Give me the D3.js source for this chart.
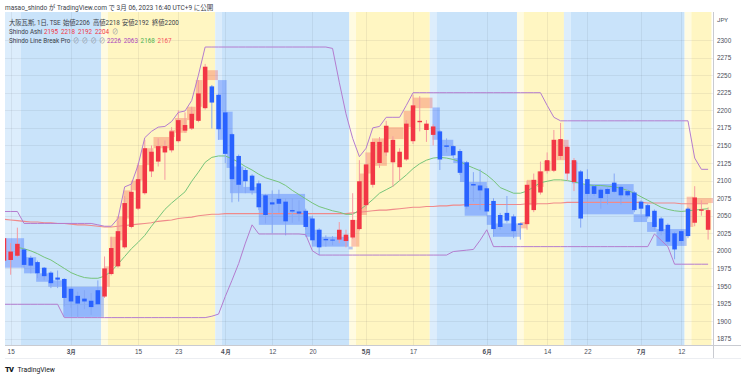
<!DOCTYPE html>
<html lang="ja">
  <head>
    <meta charset="UTF-8" />
    <title>大阪瓦斯 1日 - Shindo Line Break Pro</title>
    <script src="https://d3js.org/d3.v7.min.js"></script>
    <style>
      body {
        margin: 0;
        background: #fff;
        font-family: Roboto, "Noto Sans CJK JP", sans-serif;
      }
      .axis text {
        font-size: 6.4px;
        fill: #4a4e59;
      }
      .axis .domain,
      .axis line {
        display: none;
      }
      .legend text {
        font-size: 6.3px;
        fill: #3a3e49;
      }
    </style>
  </head>
  <body>
    <div class="chart"></div>

    <script>
      // daily bars, left to right (index = bar number)
      const opens = [
        1986, 1987, 1993, 2002, 1990, 1984, 1976, 1969, 1962, 1960,
        1946, 1936, 1932, 1929, 1944, 1935, 1967, 1978, 2005, 2034,
        2060, 2082, 2113, 2127, 2140, 2143, 2156, 2171, 2174, 2185,
        2203, 2234, 2222, 2197, 2166, 2135, 2115, 2107, 2096, 2079,
        2069, 2074, 2070, 2058, 2056, 2057, 2046, 2030, 2017, 2016,
        2016, 2014, 2019, 2031, 2065, 2094, 2125, 2140, 2126, 2119,
        2130, 2156, 2183, 2172, 2165, 2170, 2150, 2149, 2142, 2126,
        2095, 2093, 2089, 2071, 2051, 2054, 2049, 2039, 2038, 2058,
        2083, 2114, 2114, 2135, 2110, 2098, 2113, 2102, 2092, 2087,
        2088, 2097, 2091, 2085, 2083, 2070, 2065, 2057, 2046, 2037,
        2025, 2028, 2060, 2040, 2057, 2030
      ];
      const highs = [
        2022, 2011, 2033, 2004, 1993, 1986, 1977, 1971, 1972, 1961,
        1947, 1942, 1944, 1940, 1958, 1992, 2020, 2043, 2078, 2094,
        2125, 2158, 2150, 2160, 2157, 2176, 2200, 2197, 2205, 2243,
        2266, 2236, 2224, 2199, 2168, 2137, 2118, 2109, 2100, 2081,
        2086, 2087, 2075, 2075, 2072, 2060, 2050, 2032, 2022, 2021,
        2041, 2030, 2082, 2129, 2140, 2160, 2162, 2185, 2163, 2146,
        2186, 2222, 2220, 2186, 2180, 2172, 2160, 2150, 2145, 2128,
        2112, 2116, 2092, 2075, 2054, 2078, 2052, 2040, 2100, 2110,
        2127, 2140, 2172, 2182, 2150, 2132, 2115, 2116, 2094, 2089,
        2090, 2110, 2093, 2087, 2085, 2072, 2067, 2059, 2048, 2039,
        2027, 2030, 2062, 2092, 2072, 2062
      ];
      const lows = [
        1980, 1966, 1991, 1976, 1968, 1961, 1958, 1947, 1947, 1921,
        1919, 1906, 1917, 1909, 1923, 1933, 1965, 1976, 2003, 2032,
        2058, 2080, 2105, 2120, 2101, 2140, 2154, 2168, 2172, 2183,
        2201, 2174, 2158, 2125, 2069, 2070, 2082, 2080, 2058, 2039,
        2025, 2054, 2022, 2040, 2042, 2030, 2010, 1994, 2006, 2008,
        2011, 2005, 2017, 2029, 2060, 2090, 2118, 2135, 2091, 2100,
        2128, 2152, 2170, 2155, 2150, 2115, 2140, 2132, 2108, 2060,
        2070, 2058, 2050, 2020, 2030, 2040, 2018, 2016, 2030, 2055,
        2080, 2110, 2112, 2130, 2100, 2085, 2033, 2078, 2078, 2060,
        2066, 2082, 2066, 2077, 2055, 2052, 2046, 2030, 2022, 2010,
        1988, 2010, 2018, 2035, 2050, 2016
      ];
      const closes = [
        2018, 1999, 2010, 1980, 1979, 1968, 1964, 1954, 1959, 1933,
        1928, 1925, 1928, 1920, 1924, 1975, 2004, 2028, 2068, 2084,
        2102, 2146, 2141, 2149, 2149, 2170, 2186, 2179, 2195, 2224,
        2262, 2211, 2173, 2138, 2102, 2094, 2099, 2086, 2062, 2051,
        2066, 2067, 2042, 2056, 2053, 2034, 2015, 2005, 2015, 2015,
        2030, 2023, 2044, 2099, 2123, 2155, 2155, 2178, 2158, 2141,
        2181, 2207, 2185, 2181, 2177, 2130, 2148, 2136, 2111, 2063,
        2093, 2086, 2056, 2031, 2034, 2043, 2028, 2037, 2094, 2101,
        2113, 2129, 2158, 2159, 2148, 2129, 2046, 2081, 2081, 2075,
        2081, 2084, 2079, 2079, 2058, 2060, 2049, 2034, 2028, 2013,
        2002, 2014, 2021, 2076, 2059, 2058
      ];

      // Shindo Line Break Pro channel (purple)
      const upperBand = [
        2056, 2056, 2056, 2039, 2039, 2039, 2039, 2039, 2039, 2039,
        2039, 2039, 2039, 2039, 2037, 2035, 2035, 2046, 2091, 2095,
        2122, 2161, 2170, 2176, 2177, 2184, 2197, 2199, 2214, 2250,
        2290, 2290, 2290, 2290, 2290, 2290, 2290, 2290, 2290, 2290,
        2290, 2290, 2290, 2290, 2290, 2290, 2290, 2290, 2290, 2288,
        2240, 2195, 2160, 2134, 2146, 2175, 2177, 2190, 2190, 2190,
        2207, 2225, 2225, 2225, 2225, 2225, 2225, 2225, 2225, 2225,
        2225, 2225, 2225, 2225, 2225, 2225, 2225, 2225, 2225, 2225,
        2225, 2207, 2190, 2185, 2185, 2185, 2185, 2185, 2185, 2185,
        2185, 2185, 2185, 2185, 2185, 2185, 2185, 2185, 2185, 2185,
        2185, 2185, 2185, 2132, 2116, 2116
      ];
      const lowerBand = [
        1924, 1924, 1924, 1924, 1924, 1924, 1924, 1924, 1924, 1905,
        1905, 1905, 1905, 1905, 1905, 1905, 1905, 1905, 1905, 1905,
        1905, 1905, 1905, 1905, 1905, 1905, 1905, 1905, 1905, 1905,
        1905, 1907, 1910, 1935, 1958, 1982, 2011, 2037, 2024, 2024,
        2024, 2024, 2024, 2024, 2024, 2023, 2000, 1994, 1994, 1994,
        1994, 1994, 1994, 1994, 1994, 1994, 1994, 1994, 1994, 1994,
        1994, 1994, 1994, 1994, 1994, 1994, 1994, 1999, 2000, 2001,
        2002, 2015, 2030, 2006, 2006, 2006, 2006, 2006, 2006, 2006,
        2006, 2006, 2006, 2006, 2006, 2006, 2006, 2006, 2006, 2006,
        2006, 2006, 2006, 2006, 2006, 2006, 2006, 2024, 2015, 2006,
        1981, 1981, 1981, 1981, 1981, 1981
      ];
      // moving averages (green fast, red slow)
      const fastMa = [
        null, null, 2005, 2003, 2000, 1996, 1991, 1987, 1981, 1975,
        1969, 1965, 1962, 1961, 1961, 1964, 1971, 1981, 1992, 2003,
        2012, 2022, 2035, 2047, 2059, 2068, 2076, 2084, 2099, 2112,
        2126, 2133, 2135, 2135, 2131, 2126, 2120, 2115, 2109, 2104,
        2101, 2098, 2093, 2086, 2080, 2074, 2068, 2063, 2060, 2057,
        2055, 2052, 2052, 2058, 2065, 2073, 2082, 2087, 2092, 2100,
        2108, 2117, 2124, 2129, 2132, 2133, 2132, 2130, 2127, 2122,
        2118, 2114, 2108, 2100, 2090, 2086, 2082, 2082, 2085, 2091,
        2097, 2099, 2101, 2101, 2100, 2098, 2096, 2094, 2093, 2093,
        2092, 2091, 2089, 2086, 2082, 2077, 2072, 2067, 2062, 2059,
        2057, 2056, 2057, 2058, 2059, 2060
      ];
      const slowMa = [
        2045, 2044, 2043, 2042, 2041, 2041, 2040, 2040, 2039, 2039,
        2038, 2037, 2037, 2036, 2035, 2034, 2034, 2035, 2036, 2037,
        2038, 2039, 2040, 2042, 2043, 2044, 2046, 2047, 2048, 2050,
        2051, 2052, 2052, 2053, 2053, 2053, 2053, 2053, 2053, 2053,
        2053, 2053, 2053, 2053, 2053, 2053, 2053, 2053, 2053, 2053,
        2053, 2053, 2054, 2055, 2056, 2057, 2058, 2058, 2059, 2060,
        2061, 2062, 2062, 2063, 2063, 2064, 2064, 2065, 2065, 2066,
        2066, 2066, 2066, 2066, 2066, 2066, 2066, 2066, 2067, 2067,
        2067, 2067, 2068, 2068, 2069, 2069, 2069, 2069, 2069, 2069,
        2069, 2069, 2069, 2069, 2069, 2069, 2068, 2068, 2068, 2068,
        2068, 2067, 2067, 2067, 2067, 2067
      ];

      // line break bricks: [from bar, to bar, low, high, rising]
      const lineBreakBoxes = [
        [-0.5, 3.0, 1976, 2018, 0], [3.0, 4.8, 1968, 1991, 0],
        [4.8, 6.6, 1956, 1968, 0], [6.6, 8.85, 1949, 1958, 0],
        [8.85, 14.9, 1906, 1949, 0], [14.9, 15.8, 1949, 1978, 1],
        [15.8, 16.8, 1978, 2020, 1], [16.8, 17.8, 2015, 2049, 1],
        [17.8, 18.9, 2046, 2086, 1], [18.9, 19.8, 2086, 2100, 1],
        [19.8, 20.8, 2100, 2122, 1], [20.8, 22.3, 2122, 2146, 1],
        [22.3, 24.7, 2146, 2162, 1], [24.7, 25.5, 2162, 2172, 1],
        [25.5, 27.3, 2168, 2189, 1], [27.3, 28.6, 2186, 2205, 1],
        [28.6, 29.6, 2205, 2243, 1], [30.3, 31.9, 2243, 2257, 1],
        [31.9, 33.2, 2158, 2243, 0], [33.2, 34.1, 2118, 2198, 0],
        [33.7, 35.7, 2082, 2120, 0], [35.7, 38.0, 2082, 2091, 0],
        [38.0, 44.9, 2037, 2081, 0], [44.9, 45.9, 2020, 2049, 0],
        [45.9, 47.4, 2006, 2030, 0], [47.4, 51.4, 2006, 2020, 0],
        [51.4, 52.0, 2002, 2006, 0], [51.8, 53.0, 2006, 2044, 1],
        [53.0, 54.1, 2051, 2110, 1], [54.1, 55.1, 2110, 2140, 1],
        [55.1, 57.1, 2121, 2160, 1], [57.1, 59.6, 2159, 2176, 1],
        [59.6, 61.0, 2176, 2199, 1], [61.0, 63.9, 2203, 2218, 1],
        [63.9, 65.0, 2158, 2204, 0], [65.0, 67.0, 2135, 2158, 0],
        [67.0, 68.0, 2125, 2132, 0], [68.0, 68.7, 2098, 2127, 0],
        [68.7, 72.0, 2050, 2098, 0], [72.0, 73.0, 2037, 2051, 0],
        [73.0, 77.0, 2020, 2039, 0], [77.0, 78.0, 2032, 2041, 1],
        [78.0, 79.5, 2065, 2101, 1], [79.5, 80.5, 2091, 2113, 1],
        [80.5, 81.5, 2113, 2128, 1], [82.4, 84.2, 2129, 2158, 1],
        [84.7, 85.5, 2096, 2127, 0], [85.9, 93.9, 2052, 2095, 0],
        [93.9, 95.9, 2041, 2052, 0], [95.9, 97.3, 2027, 2041, 0],
        [97.3, 101.8, 2007, 2031, 0], [101.8, 102.8, 2034, 2077, 1],
        [102.8, 106, 2068, 2075, 1]
      ];

      // background trend zones: first bar of each zone and its kind
      const zoneStarts = [0, 3, 15, 16, 32, 33, 52, 53, 64, 65, 77, 78, 84, 85, 102, 103];
      const zoneKinds = [
        "blueSoft", "blue", "yellowSoft", "yellow", "blueSoft", "blue",
        "yellowSoft", "yellow", "blueSoft", "blue", "yellowSoft", "yellow",
        "blueSoft", "blue", "yellowSoft", "yellow"
      ];

      const priceTicks = [2300, 2275, 2250, 2225, 2200, 2175, 2150, 2125, 2100,
        2075, 2050, 2025, 2000, 1975, 1950, 1925, 1900, 1875];
      const timeTickBars = [1, 10, 20, 26, 33, 40, 46, 54, 61, 72, 81, 87, 95, 101];
      const timeTickLabels = ["15", "3月", "15", "23", "4月", "12", "20", "5月",
        "17", "6月", "14", "22", "7月", "12"];

      const W = 741, H = 378;
      const pane = { left: 5, top: 12, right: 713, bottom: 345 };
      const zoneColors = {
        blue: "#c9e3fa",
        blueSoft: "#dcedfc",
        yellow: "#fff6c2",
        yellowSoft: "#fffbe1"
      };
      const upColor = "#f23645", downColor = "#2962ff";
      const bandColor = "#b47ccf";

      const svg = d3
        .select(".chart")
        .append("svg")
        .attr("width", W)
        .attr("height", H)
        .style("display", "block");

      const nBars = opens.length;
      const x = d3.scaleLinear().domain([0, nBars - 1]).range([3.96, 708.1]);
      const y = d3.scaleLinear().domain([1875, 2300]).range([338.7, 40]);
      const step = x(1) - x(0);

      svg.append("defs").append("clipPath").attr("id", "pane-clip")
        .append("rect")
        .attr("x", pane.left).attr("y", pane.top)
        .attr("width", pane.right - pane.left)
        .attr("height", pane.bottom - pane.top);

      const plot = svg.append("g").attr("clip-path", "url(#pane-clip)");

      // zones
      plot.selectAll(".zone")
        .data(zoneStarts)
        .enter()
        .append("rect")
        .attr("x", (d) => x(d) - step / 2)
        .attr("y", pane.top)
        .attr("width", (d, i) => {
          const end = i + 1 < zoneStarts.length ? zoneStarts[i + 1] : nBars;
          return (end - d) * step;
        })
        .attr("height", pane.bottom - pane.top)
        .attr("fill", (d, i) => zoneColors[zoneKinds[i]]);

      // grid
      const grid = plot.append("g").attr("stroke", "rgba(42,46,57,0.07)").attr("stroke-width", 1);
      grid.selectAll(".hg").data(priceTicks).enter().append("line")
        .attr("x1", pane.left).attr("x2", pane.right)
        .attr("y1", (d) => Math.round(y(d)) + 0.5)
        .attr("y2", (d) => Math.round(y(d)) + 0.5);
      grid.selectAll(".vg").data(timeTickBars).enter().append("line")
        .attr("y1", pane.top).attr("y2", pane.bottom)
        .attr("x1", (d) => Math.round(x(d)) + 0.5)
        .attr("x2", (d) => Math.round(x(d)) + 0.5);

      // line break bricks
      plot.selectAll(".brick")
        .data(lineBreakBoxes)
        .enter()
        .append("rect")
        .attr("x", (d) => x(d[0]))
        .attr("width", (d) => x(d[1]) - x(d[0]))
        .attr("y", (d) => y(d[3]))
        .attr("height", (d) => y(d[2]) - y(d[3]))
        .attr("fill", (d) => (d[4] ? "rgba(242,70,60,0.3)" : "rgba(41,98,255,0.34)"));

      const bars = d3.range(nBars);
      const lineOf = (arr) =>
        d3.line()
          .defined((i) => arr[i] != null)
          .x((i) => x(i))
          .y((i) => y(arr[i]));

      plot.append("path").attr("d", lineOf(slowMa)(bars))
        .attr("fill", "none").attr("stroke", "#f08a8a").attr("stroke-width", 1.1);
      plot.append("path").attr("d", lineOf(fastMa)(bars))
        .attr("fill", "none").attr("stroke", "#76c47a").attr("stroke-width", 1);

      // candles
      const bodyW = step * 0.68;
      const candles = plot.selectAll(".candle").data(bars).enter().append("g");
      candles.append("line")
        .attr("x1", (i) => x(i)).attr("x2", (i) => x(i))
        .attr("y1", (i) => y(highs[i])).attr("y2", (i) => y(lows[i]))
        .attr("stroke", (i) => (closes[i] >= opens[i] ? "#f59aa2" : "#86a8f5"))
        .attr("stroke-width", 1);
      candles.append("rect")
        .attr("x", (i) => x(i) - bodyW / 2)
        .attr("width", bodyW)
        .attr("y", (i) => y(Math.max(opens[i], closes[i])))
        .attr("height", (i) => Math.max(1, Math.abs(y(opens[i]) - y(closes[i]))))
        .attr("fill", (i) => (closes[i] >= opens[i] ? upColor : downColor));

      plot.append("path").attr("d", lineOf(upperBand)(bars))
        .attr("fill", "none").attr("stroke", bandColor).attr("stroke-width", 1);
      plot.append("path").attr("d", lineOf(lowerBand)(bars))
        .attr("fill", "none").attr("stroke", bandColor).attr("stroke-width", 1);

      // axes
      svg.append("rect").attr("x", pane.right).attr("y", 0)
        .attr("width", W - pane.right).attr("height", pane.bottom).attr("fill", "#fff");

      svg.append("g")
        .attr("class", "axis")
        .attr("transform", `translate(${pane.right},0)`)
        .call(d3.axisRight(y).tickValues(priceTicks).tickSize(0).tickPadding(4).tickFormat(d3.format("d")));

      svg.append("text")
        .attr("x", pane.right + 4).attr("y", 22)
        .style("font-size", "6.2px").style("fill", "#4a4e59")
        .text("JPY");

      const tAxis = svg.append("g")
        .attr("class", "axis")
        .attr("transform", `translate(0,${pane.bottom})`)
        .call(d3.axisBottom(x).tickValues(timeTickBars).tickSize(0).tickPadding(4)
          .tickFormat((d, i) => timeTickLabels[i]));
      tAxis.selectAll("text")
        .style("font-weight", (d, i) => (timeTickLabels[i].includes("月") ? 600 : 400));

      const frame = svg.append("g").attr("stroke", "#c9cbd1").attr("stroke-width", 1);
      frame.append("line").attr("x1", pane.right + 0.5).attr("x2", pane.right + 0.5)
        .attr("y1", pane.top).attr("y2", 358);
      frame.append("line").attr("x1", pane.left).attr("x2", W)
        .attr("y1", pane.bottom + 0.5).attr("y2", pane.bottom + 0.5);
      frame.append("line").attr("x1", pane.left).attr("x2", W)
        .attr("y1", 358.5).attr("y2", 358.5).attr("stroke", "#eceef2");

      // header
      svg.append("text")
        .attr("x", 5).attr("y", 9.5)
        .style("font-size", "6.5px").style("fill", "#3a3e49")
        .text("masao_shindo が TradingView.com で 3月 06, 2023 16:40 UTC+9 に公開");

      const legend = svg.append("g").attr("class", "legend");
      const row1 = legend.append("text").attr("x", 9).attr("y", 25);
      row1.append("tspan").text("大阪瓦斯, 1日, TSE");
      [["始値", "2206", 63], ["高値", "2218", 93], ["安値", "2192", 122], ["終値", "2200", 152]]
        .forEach(([k, v, px]) => {
          row1.append("tspan").attr("x", px).text(k + v);
        });

      const row2 = legend.append("text").attr("x", 9).attr("y", 34);
      row2.append("tspan").text("Shindo Ashi");
      ["2195", "2218", "2192", "2204"].forEach((v, i) => {
        row2.append("tspan").attr("x", 44 + i * 17).style("fill", upColor).text(v);
      });
      row2.append("tspan").attr("x", 112).style("fill", "#8a8e99").text("⊘");

      const row3 = legend.append("text").attr("x", 9).attr("y", 42.5);
      row3.append("tspan").text("Shindo Line Break Pro");
      [0, 1, 2, 3].forEach((i) => {
        row3.append("tspan").attr("x", 73 + i * 8.7).style("fill", "#8a8e99").text("⊘");
      });
      [["2226", "#ab47bc"], ["2063", "#ab47bc"], ["2168", "#4caf50"], ["2167", "#f7525f"]]
        .forEach(([v, c], i) => {
          row3.append("tspan").attr("x", 107 + i * 16.8).style("fill", c).text(v);
        });

      // footer logo
      const logo = svg.append("g").attr("transform", "translate(5,372)");
      logo.append("text").attr("x", 0).attr("y", 0)
        .style("font-size", "7.5px").style("font-weight", 900)
        .style("letter-spacing", "-0.8px").style("fill", "#131722")
        .text("TV");
      logo.append("text").attr("x", 12.5).attr("y", 0)
        .style("font-size", "6.8px").style("fill", "#131722")
        .text("TradingView");
    </script>
  </body>
</html>
